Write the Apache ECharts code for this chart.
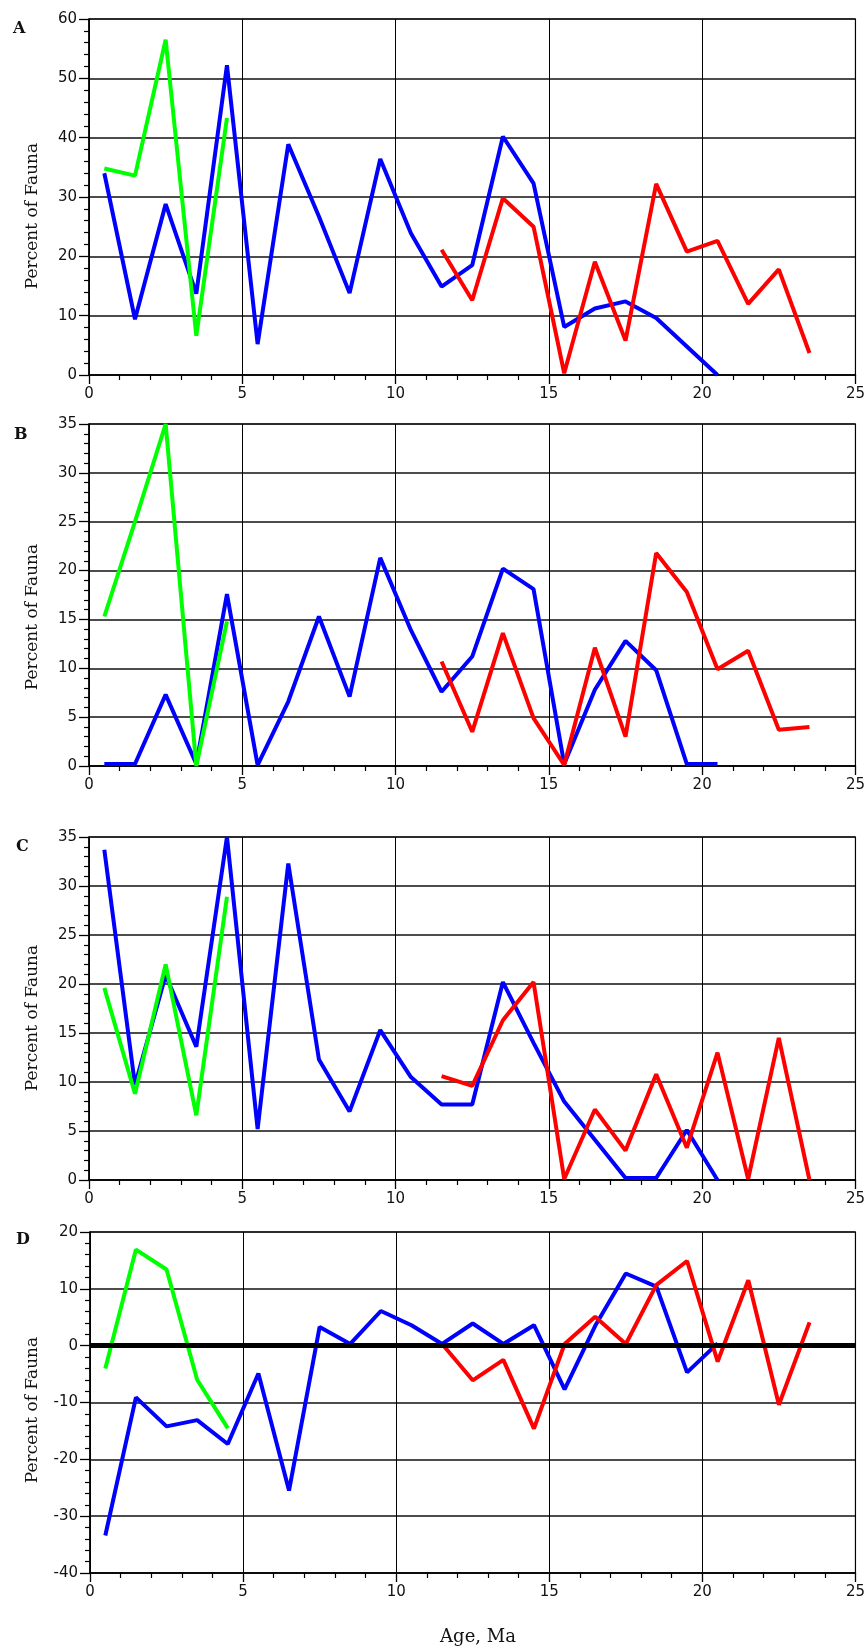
<!DOCTYPE html>
<html>
<head>
<meta charset="utf-8">
<script src="https://cdn.jsdelivr.net/npm/echarts@6/dist/echarts.min.js"></script>
<style>
  html, body { margin: 0; padding: 0; background: #fff; }
  #chart { width: 868px; height: 1649px; }
</style>
</head>
<body>
<div id="chart"></div>
<script>
// ages (Ma) at which each series is sampled
var greenAges = [0.5, 1.5, 2.5, 3.5, 4.5];
var blueAges = [0.5, 1.5, 2.5, 3.5, 4.5, 5.5, 6.5, 7.5, 8.5, 9.5, 10.5, 11.5, 12.5, 13.5, 14.5, 15.5, 16.5, 17.5, 18.5, 19.5, 20.5];
var redAges = [11.5, 12.5, 13.5, 14.5, 15.5, 16.5, 17.5, 18.5, 19.5, 20.5, 21.5, 22.5, 23.5];

// panel A
var aGreen = [34.8, 33.6, 56.5, 6.6, 43.3];
var aBlue = [34, 9.4, 28.8, 13.7, 52.2, 5.2, 38.9, 26.7, 13.8, 36.4, 23.9, 14.9, 18.5, 40.2, 32.3, 8.1, 11.2, 12.4, 9.6, 4.8, 0];
var aRed = [21.1, 12.6, 29.8, 25, 0.3, 19.1, 5.8, 32.2, 20.8, 22.6, 12, 17.8, 3.7];

// panel B
var bGreen = [15.3, 25, 35, 0, 14.8];
var bBlue = [0.2, 0.2, 7.3, 0.2, 17.6, 0.1, 6.6, 15.3, 7.1, 21.3, 13.9, 7.6, 11.2, 20.2, 18.1, 0.2, 7.8, 12.8, 9.8, 0.2, 0.2];
var bRed = [10.7, 3.5, 13.6, 4.9, 0.1, 12.1, 3, 21.8, 17.8, 9.9, 11.8, 3.7, 4];

// panel C
var cGreen = [19.6, 8.8, 22, 6.6, 28.9];
var cBlue = [33.7, 9.7, 20.9, 13.6, 35, 5.2, 32.3, 12.3, 7, 15.3, 10.5, 7.7, 7.7, 20.2, 14, 8, 4.1, 0.2, 0.2, 5.1, 0];
var cRed = [10.6, 9.6, 16.3, 20.2, 0.1, 7.2, 3, 10.8, 3.3, 13, 0.1, 14.5, 0];

// panel D
var dGreen = [-4, 16.9, 13.4, -6, -14.5];
var dBlue = [-33.4, -9.1, -14.2, -13.1, -17.3, -4.9, -25.5, 3.3, 0.3, 6.1, 3.6, 0.3, 3.9, 0.3, 3.6, -7.7, 3.5, 12.7, 10.4, -4.7, 0.4];
var dRed = [0.3, -6.1, -2.5, -14.6, 0.3, 5.1, 0.3, 10.7, 14.9, -2.8, 11.5, -10.4, 4.1];

// y axis ranges
var yMins = [0, 0, 0, -40];
var yMaxs = [60, 35, 35, 20];
var yIntervals = [10, 5, 5, 10];
var panelNames = ['A', 'B', 'C', 'D'];

var panels = [
    {green: aGreen, blue: aBlue, red: aRed},
    {green: bGreen, blue: bBlue, red: bRed},
    {green: cGreen, blue: cBlue, red: cRed},
    {green: dGreen, blue: dBlue, red: dRed}
];

// layout of each grid, in pixels
var gridBoxes = [
    {left: 89, right: 10, top: 19, height: 356},
    {left: 89, right: 10, top: 424, height: 342},
    {left: 89, right: 10, top: 837, height: 343},
    {left: 90, right: 8, top: 1232, height: 341}
];
var letterPos = [[13, 21], [14, 427], [16, 839], [16, 1232]];
var ylabelCenter = [216, 617, 1018, 1410];

var tickFont = {color: '#111', fontFamily: 'DejaVu Sans', fontSize: 15};

function pairs(ages, vals) {
    return ages.map(function (a, i) { return [a, vals[i]]; });
}

var grids = [], xAxes = [], yAxes = [], series = [], graphics = [];

panels.forEach(function (p, i) {
    grids.push({
        left: gridBoxes[i].left,
        right: gridBoxes[i].right,
        top: gridBoxes[i].top,
        height: gridBoxes[i].height,
        show: true,
        borderColor: '#000',
        borderWidth: 1.2
    });
    xAxes.push({
        type: 'value',
        gridIndex: i,
        min: 0,
        max: 25,
        interval: 5,
        axisLine: {onZero: false, lineStyle: {color: '#000', width: 1.5}},
        axisTick: {show: true, inside: false, length: 9, lineStyle: {color: '#000', width: 1.3}},
        minorTick: {show: true, splitNumber: 5, length: 5, lineStyle: {color: '#000', width: 1.2}},
        axisLabel: Object.assign({margin: 12}, tickFont),
        splitLine: {show: true, lineStyle: {color: '#000', width: 1}}
    });
    yAxes.push({
        type: 'value',
        gridIndex: i,
        min: yMins[i],
        max: yMaxs[i],
        interval: yIntervals[i],
        axisLine: {onZero: false, lineStyle: {color: '#000', width: 1.5}},
        axisTick: {show: true, inside: false, length: 10, lineStyle: {color: '#000', width: 1.3}},
        minorTick: {show: true, splitNumber: 5, length: 5, lineStyle: {color: '#000', width: 1.2}},
        axisLabel: Object.assign({margin: 12}, tickFont),
        splitLine: {show: true, lineStyle: {color: '#111', width: 1.7}}
    });

    var blue = {
        type: 'line',
        xAxisIndex: i,
        yAxisIndex: i,
        data: pairs(blueAges, p.blue),
        symbol: 'none',
        color: '#0000ff',
        lineStyle: {color: '#0000ff', width: 4}
    };
    if (i === 3) {
        blue.markLine = {
            silent: true,
            symbol: 'none',
            label: {show: false},
            lineStyle: {color: '#000', width: 5, type: 'solid'},
            data: [{yAxis: 0}]
        };
    }
    series.push(blue);
    series.push({
        type: 'line',
        xAxisIndex: i,
        yAxisIndex: i,
        data: pairs(redAges, p.red),
        symbol: 'none',
        color: '#ff0000',
        lineStyle: {color: '#ff0000', width: 4}
    });
    series.push({
        type: 'line',
        xAxisIndex: i,
        yAxisIndex: i,
        data: pairs(greenAges, p.green),
        symbol: 'none',
        color: '#00ff00',
        lineStyle: {color: '#00ff00', width: 4}
    });

    // panel letter
    graphics.push({
        type: 'text',
        x: letterPos[i][0],
        y: letterPos[i][1],
        style: {
            text: panelNames[i],
            font: 'bold 16px "DejaVu Serif"',
            fill: '#111',
            align: 'left',
            verticalAlign: 'top'
        }
    });
    // y axis title
    graphics.push({
        type: 'text',
        x: 33,
        y: ylabelCenter[i],
        rotation: Math.PI / 2,
        style: {
            text: 'Percent of Fauna',
            font: '17px "DejaVu Serif"',
            fill: '#111',
            align: 'center',
            verticalAlign: 'middle'
        }
    });
});

graphics.push({
    type: 'text',
    x: 478,
    y: 1637,
    style: {
        text: 'Age, Ma',
        font: '18px "DejaVu Serif"',
        fill: '#111',
        align: 'center',
        verticalAlign: 'middle'
    }
});

var chart = echarts.init(document.getElementById('chart'));
var option = {
    animation: false,
    backgroundColor: '#fff',
    grid: grids,
    xAxis: xAxes,
    yAxis: yAxes,
    series: series,
    graphic: graphics
};
chart.setOption(option);
</script>
</body>
</html>
